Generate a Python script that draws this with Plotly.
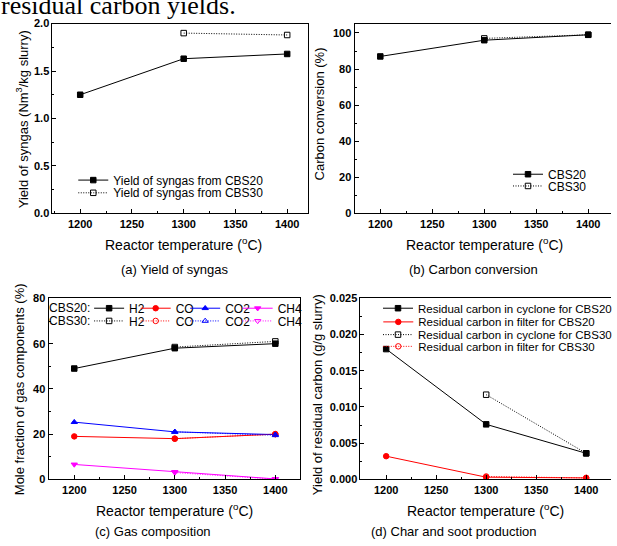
import plotly.graph_objects as go

W, H = 617, 546

# ---------------- data ----------------
temps = [1200, 1300, 1400]
temps30 = [1300, 1400]

syngas_cbs20 = [1.25, 1.63, 1.68]
syngas_cbs30 = [1.90, 1.88]

conv_cbs20 = [87, 96, 99]
conv_cbs30 = [97, 99]

h2_cbs20 = [49, 58, 60]
co_cbs20 = [19, 18, 20]
co2_cbs20 = [25.3, 21, 19.8]
ch4_cbs20 = [6.6, 3.3, 0.2]
h2_cbs30 = [58.5, 61]
co_cbs30 = [18, 20]
co2_cbs30 = [21, 19.5]
ch4_cbs30 = [3.0, 0.1]

cyc_cbs20 = [0.018, 0.0076, 0.0036]
fil_cbs20 = [0.0032, 0.0003, 0.0002]
cyc_cbs30 = [0.0117, 0.0036]
fil_cbs30 = [0.0004, 0.0002]

x_ticks = [1200, 1250, 1300, 1350, 1400]

# ---------------- helpers ----------------
def px(x):
    return x / W

def py(y):
    return 1 - y / H

FONT = "Liberation Sans, Arial, sans-serif"
DOT = "1px,1.5px"

fig = go.Figure()

def add(xs, ys, name, color, symbol, dash, xa, ya, legend):
    fig.add_trace(go.Scatter(
        x=xs, y=ys, name=name, mode="lines+markers",
        line=dict(color=color, width=1, dash=dash),
        marker=dict(symbol=symbol, size=5.5, color=color,
                    line=dict(color=color, width=1)),
        xaxis=xa, yaxis=ya, legend=legend, showlegend=True,
    ))

# panel a
add(temps, syngas_cbs20, "Yield of syngas from CBS20", "black", "square", "solid", "x", "y", "legend")
add(temps30, syngas_cbs30, "Yield of syngas from CBS30", "black", "square-open", DOT, "x", "y", "legend2")
# panel b
add(temps, conv_cbs20, "CBS20", "black", "square", "solid", "x2", "y2", "legend3")
add(temps30, conv_cbs30, "CBS30", "black", "square-open", DOT, "x2", "y2", "legend4")
# panel c
add(temps, h2_cbs20, "H2", "black", "square", "solid", "x3", "y3", "legend5")
add(temps, co_cbs20, "CO", "red", "circle", "solid", "x3", "y3", "legend6")
add(temps, co2_cbs20, "CO2", "blue", "triangle-up", "solid", "x3", "y3", "legend7")
add(temps, ch4_cbs20, "CH4", "magenta", "triangle-down", "solid", "x3", "y3", "legend8")
add(temps30, h2_cbs30, "H2", "black", "square-open", DOT, "x3", "y3", "legend9")
add(temps30, co_cbs30, "CO", "red", "circle-open", DOT, "x3", "y3", "legend10")
add(temps30, co2_cbs30, "CO2", "blue", "triangle-up-open", DOT, "x3", "y3", "legend11")
add(temps30, ch4_cbs30, "CH4", "magenta", "triangle-down-open", DOT, "x3", "y3", "legend12")
# panel d
add(temps, cyc_cbs20, "Residual carbon in cyclone for CBS20", "black", "square", "solid", "x4", "y4", "legend13")
add(temps, fil_cbs20, "Residual carbon in filter for CBS20", "red", "circle", "solid", "x4", "y4", "legend14")
add(temps30, cyc_cbs30, "Residual carbon in cyclone for CBS30", "black", "square-open", DOT, "x4", "y4", "legend15")
add(temps30, fil_cbs30, "Residual carbon in filter for CBS30", "red", "circle-open", DOT, "x4", "y4", "legend16")

tickfont = dict(family=FONT, size=11, color="black", weight="bold")

def xaxis(dom, rng, anchor, mirror):
    return dict(domain=dom, range=rng, anchor=anchor, tickvals=x_ticks,
                showline=True, linecolor="black", linewidth=1, mirror=mirror,
                ticks="inside", ticklen=4, tickcolor="black",
                minor=dict(ticks="inside", ticklen=2, dtick=25, tick0=1200, tickcolor="black"),
                showgrid=False, zeroline=False, tickfont=tickfont, fixedrange=True)

def yaxis(dom, rng, anchor, dtick, fmt, mirror):
    return dict(domain=dom, range=rng, anchor=anchor, dtick=dtick, tick0=0,
                tickformat=fmt, showline=True, linecolor="black", linewidth=1,
                mirror=mirror, ticks="inside", ticklen=4, tickcolor="black",
                minor=dict(ticks="inside", ticklen=2, dtick=dtick / 2, tickcolor="black"),
                showgrid=False, zeroline=False, tickfont=tickfont, fixedrange=True)

top_dom = [py(212), py(18)]
bot_dom = [py(484), py(299)]

layout = dict(
    width=W, height=H, margin=dict(l=0, r=0, t=0, b=0),
    paper_bgcolor="white", plot_bgcolor="white", showlegend=True,
    font=dict(family=FONT, color="black"),
    xaxis=xaxis([px(53), px(311)], [1173.2, 1420.1], "y", True),
    yaxis=yaxis(top_dom, [0, 2.0], "x", 0.5, ".1f", True),
    xaxis2=xaxis([px(358), 1.0], [1175.2, 1421.9], "y2", True),
    yaxis2=yaxis(top_dom, [0, 105.2], "x2", 20, "d", False),
    xaxis3=xaxis([px(49), px(303)], [1174.4, 1424.6], "y3", True),
    yaxis3=yaxis(bot_dom, [0, 80], "x3", 20, "d", True),
    xaxis4=xaxis([px(364), 1.0], [1174.3, 1424.8], "y4", True),
    yaxis4=yaxis(bot_dom, [0, 0.025], "x4", 0.005, ".3f", False),
)

def leg(x_text, y_row, size=12):
    # place legend so that its text starts at x_text and row is centred at y_row
    return dict(x=px(x_text - 40), y=py(y_row), xanchor="left", yanchor="middle",
                bgcolor="rgba(0,0,0,0)", borderwidth=0, itemwidth=30,
                orientation="v", font=dict(family=FONT, size=size, color="black"),
                itemclick=False, itemdoubleclick=False)

layout["legend"] = leg(114, 178)
layout["legend2"] = leg(114, 191)
layout["legend3"] = leg(553, 172)
layout["legend4"] = leg(553, 184)
c_text_x = [130, 177, 227, 280]
for i, xt in enumerate(c_text_x):
    layout[f"legend{5 + i}"] = leg(xt, 309)
    layout[f"legend{9 + i}"] = leg(xt, 322)
d_rows = [309, 323, 336, 348]
for i, yr in enumerate(d_rows):
    layout[f"legend{13 + i}"] = leg(422, yr, 11.5)

fig.update_layout(**layout)

ann = []
def text(x, y, s, size=13, angle=0, xanchor="center", family=FONT):
    ann.append(dict(x=px(x), y=py(y), xref="paper", yref="paper", text=s,
                    showarrow=False, textangle=angle, xanchor=xanchor, yanchor="middle",
                    font=dict(family=family, size=size, color="black")))

xtitle = "Reactor temperature (<sup>o</sup>C)"
text(185, 243, xtitle, 14)
text(489, 243, xtitle, 14)
text(176, 515, xtitle, 14)
text(490, 515, xtitle, 14)

text(176, 269, "(a) Yield of syngas")
text(478, 269, "(b) Carbon conversion")
text(155, 537, "(c) Gas composition")
text(458, 537, "(d) Char and soot production")

text(23, 116, "Yield of syngas (Nm<sup>3</sup>/kg slurry)", 13, -90)
text(323, 110, "Carbon conversion (%)", 13, -90)
text(20, 392, "Mole fraction of gas components (%)", 13, -90)
text(320, 397, "Yield of residual carbon (g/g slurry)", 13, -90)

text(93, 309, "CBS20:", 12, xanchor="right")
text(93, 322, "CBS30:", 12, xanchor="right")

text(-1, -1, "residual carbon yields.", 26, xanchor="left",
     family="Liberation Serif, Times New Roman, serif")

fig.update_layout(annotations=ann)
fig.write_html("out.html")
